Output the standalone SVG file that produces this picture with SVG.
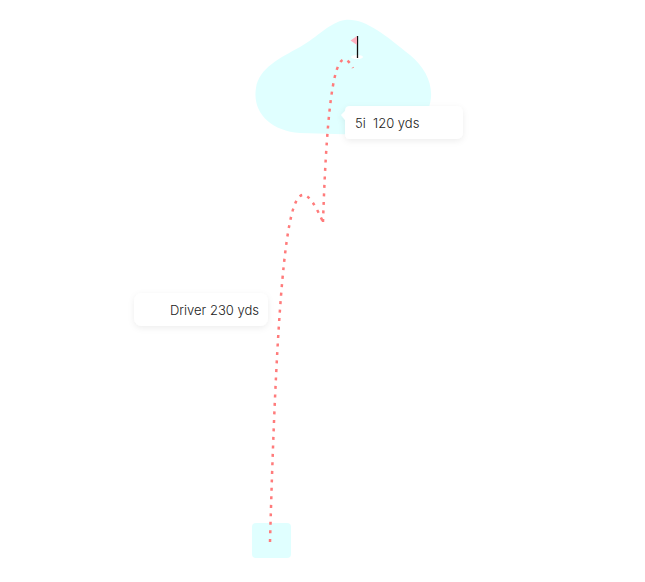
<svg xmlns="http://www.w3.org/2000/svg" width="645" height="582" viewBox="0 0 645 582">
<style>
.area{fill:#e0ffff}
.shot{fill:none;stroke:#ff7b7b;stroke-width:2.5;stroke-dasharray:3 5.5;stroke-linecap:butt}
.lbl{fill:#ffffff;filter:url(#sh)}
.txt{font-family:Inter,"Liberation Sans",sans-serif;font-size:13px;font-weight:300;fill:#222222;white-space:pre}
</style>
<defs>
<filter id="sh" x="-20%" y="-40%" width="140%" height="180%">
<feDropShadow dx="0" dy="2" stdDeviation="3" flood-color="#000" flood-opacity="0.07"/>
</filter>
</defs>
<rect width="645" height="582" fill="#ffffff"/>
<g id="green">
<path class="area" d="M345,20 C365,18 385,35 410,55 C428,70 436,90 428,110 C420,130 395,135 370,135 L300,133 C270,131 252,112 256,88 C259,68 280,58 300,47 C318,37 330,22 345,20 Z"/>
<ellipse cx="357" cy="57" rx="6" ry="2" fill="#ffffff"/>
<line x1="357.5" y1="36" x2="357.5" y2="58" stroke="#111" stroke-width="1.3"/>
<path d="M357,36 L350.5,40.5 L357,45 Z" fill="#ffb0bf"/>
</g>
<g id="tee">
<rect class="area" x="252" y="523" width="39" height="35" rx="4"/>
</g>
<g id="connectors">
<path class="shot" d="M270,542 C280,180 295,160 323,222"/>
<path class="shot" d="M323,222 C327,100 335,35 353,68"/>
</g>
<g id="label-5i">
<path class="lbl" d="M350,106 L456,106 Q463,106 463,113 L463,132 Q463,139 456,139 L350,139 Q345,139 345,134 L345,120 L341,115 L345,111 Q345,106 350,106 Z"/>
<text class="txt" x="355" y="128">5i  120 yds</text>
</g>
<g id="label-driver">
<rect class="lbl" x="134" y="293" width="134" height="33" rx="8"/>
<text class="txt" x="259" y="315" text-anchor="end">Driver 230 yds</text>
</g>
</svg>
